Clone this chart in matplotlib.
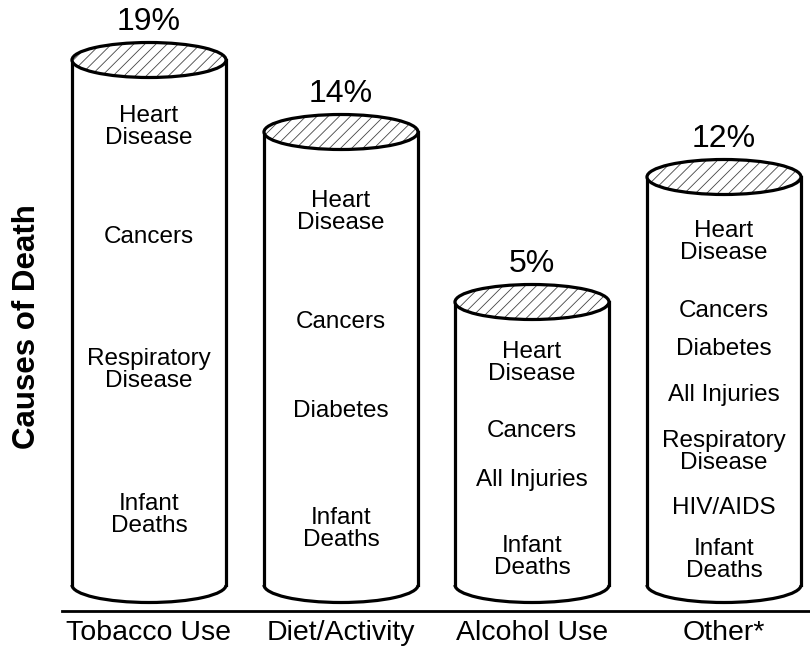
import matplotlib.pyplot as plt
from matplotlib.patches import Ellipse, Arc, Rectangle
import matplotlib as mpl

mpl.rcParams['hatch.linewidth'] = 0.6
mpl.rcParams['hatch.color'] = '#444444'
plt.rcParams['font.family'] = ['Liberation Sans', 'DejaVu Sans']

categories = ["Tobacco Use", "Diet/Activity", "Alcohol Use", "Other*"]
percents = ["19%", "14%", "5%", "12%"]
# drawn cylinder heights (arbitrary units)
heights = [525, 453, 283, 408]
causes = [
    ["Heart\nDisease", "Cancers", "Respiratory\nDisease", "Infant\nDeaths"],
    ["Heart\nDisease", "Cancers", "Diabetes", "Infant\nDeaths"],
    ["Heart\nDisease", "Cancers", "All Injuries", "Infant\nDeaths"],
    ["Heart\nDisease", "Cancers", "Diabetes", "All Injuries",
     "Respiratory\nDisease", "HIV/AIDS", "Infant\nDeaths"],
]
# label heights above the base, per cylinder
label_y = [
    [458, 348, 215, 70],
    [373, 263, 174, 56],
    [222, 154, 105, 28],
    [343, 274, 236, 190, 133, 77, 25],
]

centers = [149, 341, 532, 724]
width = 154
ell_h = 35
base = 65

fig = plt.figure(figsize=(8.1, 6.5), dpi=100)
ax = fig.add_axes([0, 0, 1, 1])
ax.set_xlim(0, 810)
ax.set_ylim(0, 650)
ax.axis('off')

lw = 2.3
for i, cx in enumerate(centers):
    top = base + heights[i]
    x0 = cx - width / 2
    ax.add_patch(Rectangle((x0, base), width, heights[i], facecolor='white',
                           edgecolor='none', zorder=1))
    ax.add_patch(Ellipse((cx, base), width, ell_h, facecolor='white',
                         edgecolor='none', zorder=1))
    ax.plot([x0, x0], [base, top], color='black', lw=lw, zorder=2)
    ax.plot([x0 + width, x0 + width], [base, top], color='black', lw=lw, zorder=2)
    ax.add_patch(Arc((cx, base), width, ell_h, theta1=180, theta2=360,
                     color='black', lw=lw, zorder=2))
    ax.add_patch(Ellipse((cx, top), width, ell_h, facecolor='white',
                         hatch='///', lw=0, zorder=3))
    ax.add_patch(Ellipse((cx, top), width, ell_h, facecolor='none',
                         edgecolor='black', lw=lw, zorder=4))
    ax.text(cx, top + 38, percents[i], ha='center', va='center', fontsize=23)
    for lab, ly in zip(causes[i], label_y[i]):
        ax.text(cx, base + ly, lab, ha='center', va='center', fontsize=17.5,
                linespacing=0.95)
    ax.text(cx, 17, categories[i], ha='center', va='center', fontsize=20.5)

ax.plot([62, 810], [39, 39], color='black', lw=2, zorder=2)
ax.text(27, 323, "Causes of Death", rotation=90, ha='center', va='center',
        fontsize=22.5, fontweight='bold')

fig.savefig("out.png", dpi=100)
